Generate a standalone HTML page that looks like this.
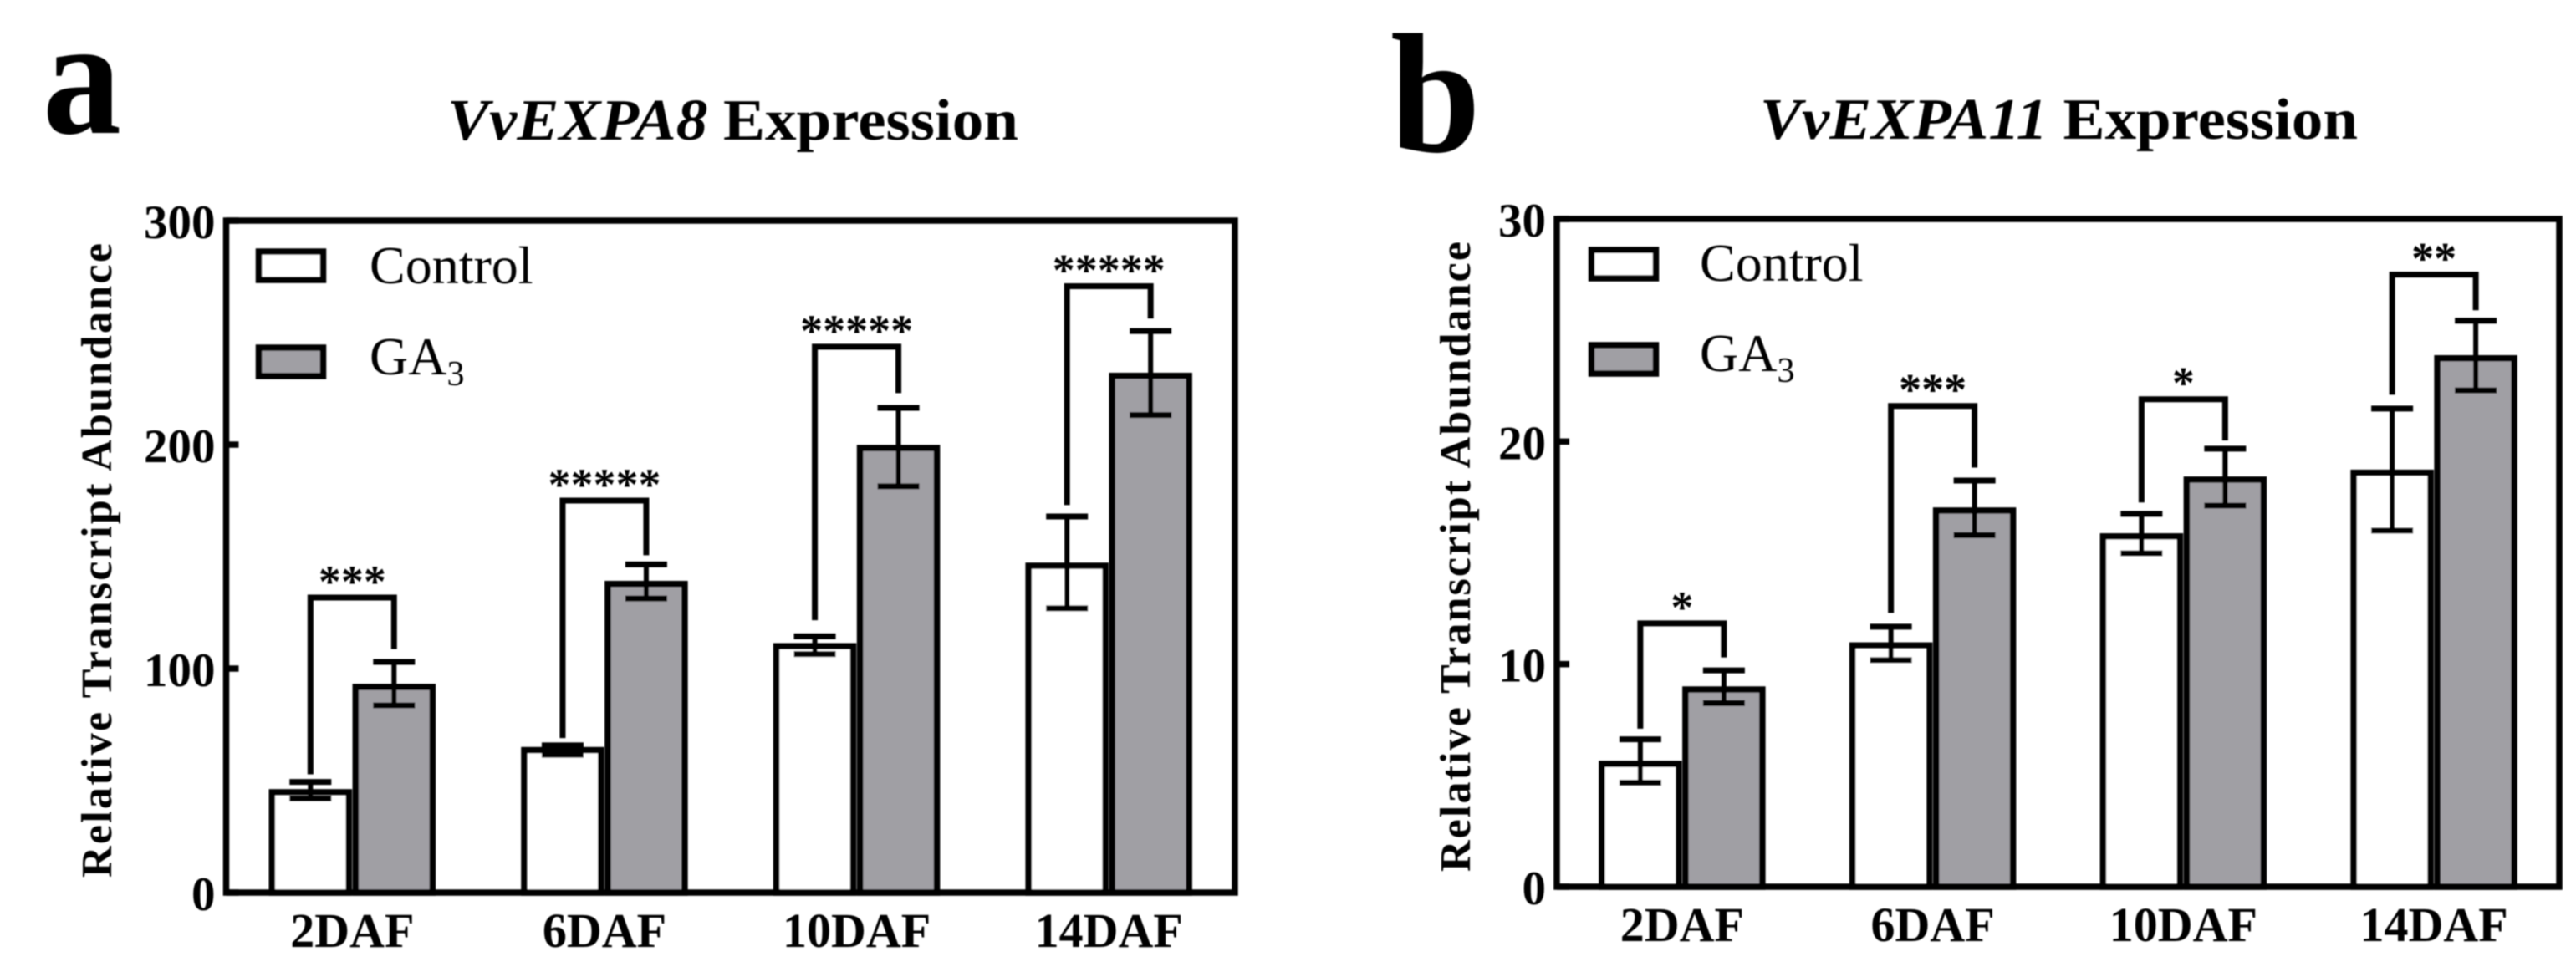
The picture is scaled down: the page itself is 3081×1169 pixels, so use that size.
<!DOCTYPE html>
<html lang="en">
<head>
<meta charset="utf-8">
<title>VvEXPA8 and VvEXPA11 Expression</title>
<style>
html,body{margin:0;padding:0;background:#fff;}
svg{display:block;font-family:"Liberation Serif",serif;}
</style>
</head>
<body>
<svg id="figure" xmlns="http://www.w3.org/2000/svg" width="3081" height="1169" viewBox="0 0 3081 1169">
<defs>
<filter id="soften" filterUnits="userSpaceOnUse" x="0" y="0" width="3081" height="1169"><feGaussianBlur stdDeviation="0.9"/></filter>
</defs>
<rect width="3081" height="1169" fill="#fff"/>
<g filter="url(#soften)">
<text transform="translate(51,159) scale(0.94,1)" font-size="200" font-weight="bold">a</text>
<text transform="translate(1663,181) scale(0.95,1)" font-size="204" font-weight="bold">b</text>
<text x="535" y="167" font-size="70" font-weight="bold" textLength="683" lengthAdjust="spacingAndGlyphs"><tspan font-style="italic">VvEXPA8</tspan> Expression</text>
<text x="2105" y="166" font-size="70" font-weight="bold" textLength="715" lengthAdjust="spacingAndGlyphs"><tspan font-style="italic">VvEXPA11</tspan> Expression</text>
<text transform="translate(133,1050) rotate(-90)" font-size="52" font-weight="bold" textLength="759" lengthAdjust="spacing">Relative Transcript Abundance</text>
<text transform="translate(1758,1043) rotate(-90)" font-size="52" font-weight="bold" textLength="754" lengthAdjust="spacing">Relative Transcript Abundance</text>
<g id="panel-a"></g>
<g id="panel-b"></g>
<g>
<g>
<rect x="309.5" y="301" width="77" height="34" fill="#fff" stroke="#000" stroke-width="7.5"/>
<text x="442" y="339" font-size="64">Control</text>
</g>
<g>
<rect x="309.5" y="416" width="77" height="34" fill="#a09fa4" stroke="#000" stroke-width="7.5"/>
<text x="442" y="448" font-size="64">GA<tspan font-size="42" dy="13">3</tspan></text>
</g>
</g>
<g>
<g>
<rect x="1903.5" y="299" width="77" height="34" fill="#fff" stroke="#000" stroke-width="7.5"/>
<text x="2033" y="336" font-size="64">Control</text>
</g>
<g>
<rect x="1903.5" y="413" width="77" height="34" fill="#a09fa4" stroke="#000" stroke-width="7.5"/>
<text x="2033" y="444" font-size="64">GA<tspan font-size="42" dy="13">3</tspan></text>
</g>
</g>
</g>
</svg>
<script>
// Shared categories
const categories = ['2DAF', '6DAF', '10DAF', '14DAF'];

// Panel a: VvEXPA8
const ticksA = [0, 100, 200, 300];
const controlA = [44.8, 63.6, 110, 145.9];
const ga3A = [91.8, 137.8, 198.5, 230.7];
const controlHighA = [49.4, 65.7, 114.4, 167.9];
const controlLowA = [42, 61.5, 106.5, 126.9];
const ga3HighA = [103, 146.5, 216.4, 250.7];
const ga3LowA = [83.6, 131.3, 181.4, 213.2];
const bracketTopA = [131.7, 175, 243.7, 270.7];
const bracketLeftEndA = [52.8, 69, 121.6, 173];
const bracketRightEndA = [108.7, 150.6, 223, 256.3];
const starsA = ['***', '*****', '*****', '*****'];

// Panel b: VvEXPA11
const ticksB = [0, 10, 20, 30];
const controlB = [5.52, 10.84, 15.74, 18.6];
const ga3B = [8.86, 16.9, 18.29, 23.74];
const controlHighB = [6.62, 11.68, 16.75, 21.48];
const controlLowB = [4.67, 10.18, 14.98, 16];
const ga3HighB = [9.72, 18.25, 19.68, 25.43];
const ga3LowB = [8.25, 15.8, 17.12, 22.3];
const bracketTopB = [11.83, 21.6, 21.9, 27.5];
const bracketLeftEndB = [7.1, 12.3, 17.26, 22.1];
const bracketRightEndB = [10.3, 18.83, 20.05, 25.9];
const starsB = ['*', '***', '*', '**'];

const SVG_NS = 'http://www.w3.org/2000/svg';

function make(tag, attrs, parent, text) {
  const el = document.createElementNS(SVG_NS, tag);
  Object.keys(attrs).forEach(function (k) { el.setAttribute(k, attrs[k]); });
  if (text !== undefined) el.textContent = text;
  parent.appendChild(el);
  return el;
}

function drawPanel(p) {
  const root = document.getElementById(p.id);
  const yScale = function (v) { return p.bottom - (v / p.ticks[p.ticks.length - 1]) * (p.bottom - p.top); };
  const step = (p.right - p.left) / p.categories.length;
  const xScale = function (i) { return p.left + (i + 0.5) * step; };
  const barOffset = 50;
  const barWidth = 92;
  const strokeW = 7.5;
  const capHalf = 25;

  function drawBar(i, value, hi, lo, fill, series) {
    const cx = xScale(i) + (series === 'control' ? -barOffset : barOffset);
    const bar = make('rect', { x: cx - barWidth / 2, y: yScale(value), width: barWidth, height: p.bottom - yScale(value), fill: fill, stroke: '#000', 'stroke-width': strokeW }, root);
    
    

    const err = make('path', {
      d: 'M' + cx + ' ' + yScale(hi) + 'V' + yScale(lo),
      fill: 'none', stroke: '#000', 'stroke-width': 6
    }, root);
    
    

    const caps = make('path', {
      d: 'M' + (cx - capHalf) + ' ' + yScale(hi) + 'H' + (cx + capHalf) +
         'M' + (cx - capHalf) + ' ' + yScale(lo) + 'H' + (cx + capHalf),
      fill: 'none', stroke: '#000', 'stroke-width': 7
    }, root);
    
    
  }

  p.categories.forEach(function (cat, i) {
    drawBar(i, p.control[i], p.controlHigh[i], p.controlLow[i], '#fff', 'control');
    drawBar(i, p.ga3[i], p.ga3High[i], p.ga3Low[i], '#a09fa4', 'ga3');

    const lx = xScale(i) - barOffset;
    const rx = xScale(i) + barOffset;
    const bracket = make('path', {
      d: 'M' + lx + ' ' + yScale(p.bracketLeftEnd[i]) + 'V' + yScale(p.bracketTop[i]) + 'H' + rx + 'V' + yScale(p.bracketRightEnd[i]),
      fill: 'none', stroke: '#000', 'stroke-width': 7
    }, root);
    
    

    const star = make('text', { x: xScale(i), y: yScale(p.bracketTop[i]) - 1, 'font-size': 54, 'font-weight': 'bold', 'text-anchor': 'middle' }, root, p.stars[i]);
    
    

    const label = make('text', { x: xScale(i), y: p.bottom + p.xLabelGap, 'font-size': 58, 'font-weight': 'bold', 'text-anchor': 'middle' }, root, cat);
    
    
  });

  p.ticks.forEach(function (t) {
    const y = yScale(t);
    const tick = make('line', { x1: p.left, x2: p.left + 15, y1: y, y2: y, stroke: '#000', 'stroke-width': 7.5 }, root);
    
    

    const tl = make('text', { x: p.left - 13, y: y + 21, 'font-size': 57, 'font-weight': 'bold', 'text-anchor': 'end' }, root, String(t));
    
    
  });

  const frame = make('rect', { x: p.left, y: p.top, width: p.right - p.left, height: p.bottom - p.top, fill: 'none', stroke: '#000', 'stroke-width': 7.5 }, root);
  
  
}

drawPanel({
  id: 'panel-a', left: 270.5, right: 1477, top: 264, bottom: 1068, xLabelGap: 65,
  categories: categories, ticks: ticksA, control: controlA, ga3: ga3A,
  controlHigh: controlHighA, controlLow: controlLowA, ga3High: ga3HighA, ga3Low: ga3LowA,
  bracketTop: bracketTopA, bracketLeftEnd: bracketLeftEndA, bracketRightEnd: bracketRightEndA, stars: starsA
});
drawPanel({
  id: 'panel-b', left: 1862, right: 3061, top: 262, bottom: 1061, xLabelGap: 65,
  categories: categories, ticks: ticksB, control: controlB, ga3: ga3B,
  controlHigh: controlHighB, controlLow: controlLowB, ga3High: ga3HighB, ga3Low: ga3LowB,
  bracketTop: bracketTopB, bracketLeftEnd: bracketLeftEndB, bracketRightEnd: bracketRightEndB, stars: starsB
});
</script>
</body>
</html>
